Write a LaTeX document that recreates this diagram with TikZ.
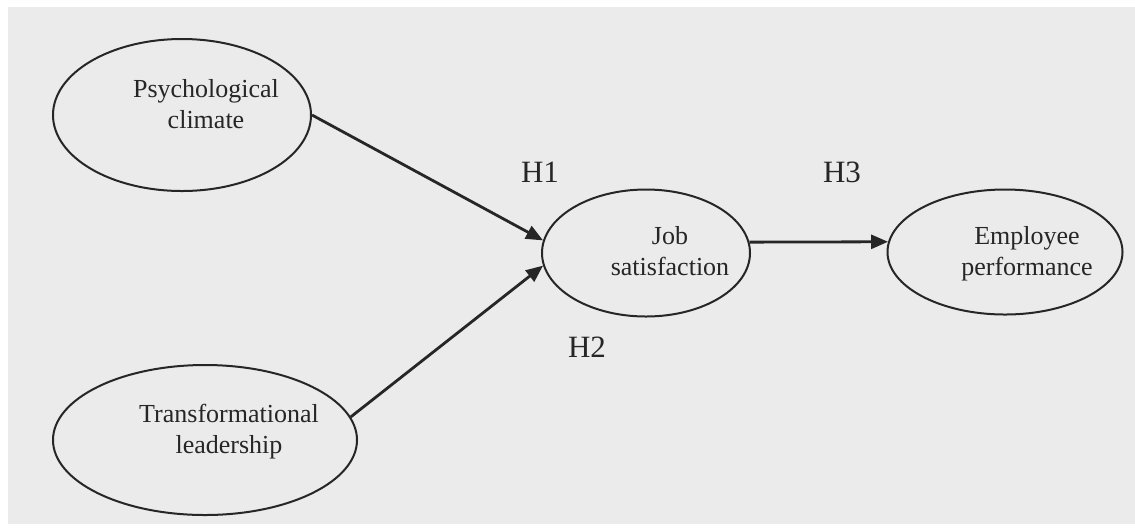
\documentclass[tikz,border=0pt]{standalone}
\usepackage{fontspec}
\setmainfont{Liberation Serif}
\usetikzlibrary{shapes.geometric,arrows.meta}
\definecolor{paper}{RGB}{235,235,235}
\definecolor{ink}{RGB}{38,38,38}
\tikzset{
  construct/.style={ellipse, draw=ink, line width=1pt, inner sep=0pt},
  caption/.style={align=center, text=ink, font=\fontsize{13}{15.5}\selectfont},
  hyp/.style={text=ink, font=\fontsize{15.5}{18}\selectfont},
  link/.style={draw=ink, line width=1.4pt, -{Triangle[length=8.5pt,width=7pt]}}
}
\begin{document}
\begin{tikzpicture}[x=0.5pt,y=-0.5pt]
%Page
  \fill[white] (0,0) rectangle (1135,527);
  \fill[paper] (8,7) rectangle (1135,524);
  \useasboundingbox (0,0) rectangle (1135,527);
%Constructs
  \node[construct, minimum width=129pt, minimum height=76pt] (psy) at (182,115) {};
  \node[construct, minimum width=152pt, minimum height=75pt] (trans) at (205,440) {};
  \node[construct, minimum width=104pt, minimum height=63.5pt] (job) at (646,253) {};
  \node[construct, minimum width=117.5pt, minimum height=62.5pt] (emp) at (1005,252) {};
  %texts, set a bit right of centre
  \node[caption] (psytxt) at ([shift={(24,-11)}]psy.center) {Psychological\\climate};
  \node[caption] (transtxt) at ([shift={(24,-8)}]trans.center) {Transformational\\leadership};
  \node[caption] (jobtxt) at ([shift={(24,-2)}]job.center) {Job\\satisfaction};
  \node[caption] (emptxt) at ([shift={(22,2)}]emp.center) {Employee\\performance};
%Hypotheses
  \draw[link] (psy.east) -- (job.173);
  \draw[link] (trans.9) -- (job.187);
  \draw[link] (job.6) -- (emp.175);
  \node[hyp] (h1) at (540,172) {H1};
  \node[hyp] (h2) at (587,347) {H2};
  \node[hyp] (h3) at (842,172) {H3};
\end{tikzpicture}
\end{document}
